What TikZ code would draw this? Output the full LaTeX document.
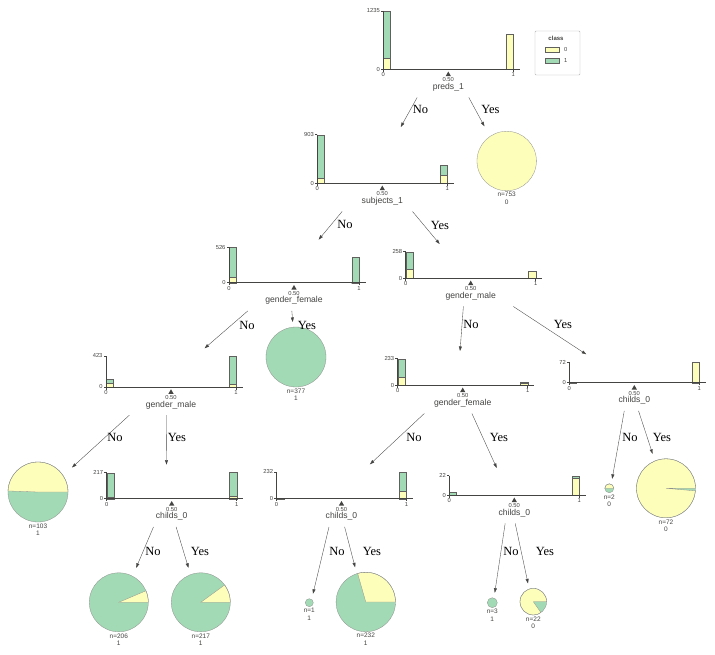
\documentclass[tikz,border=0pt]{standalone}
\usepackage{fontspec}
\setmainfont{Liberation Sans}
\newfontfamily\edgefont{Liberation Serif}
\usetikzlibrary{arrows.meta}

\definecolor{clzero}{HTML}{FEFEBB}
\definecolor{clone}{HTML}{A1DAB4}
\definecolor{dgrey}{HTML}{444443}

\tikzset{
  axisline/.style={draw=dgrey, line width=0.45pt},
  barline/.style={draw=dgrey!85, line width=0.3pt},
  pieline/.style={draw=dgrey!60, line width=0.3pt},
  ticklbl/.style={font=\fontsize{5.8}{6}\selectfont, text=dgrey, inner sep=0.8pt},
  featlbl/.style={font=\fontsize{8.6}{9}\selectfont, text=dgrey, inner sep=0pt},
  leaflbl/.style={font=\fontsize{6.5}{7.5}\selectfont, text=dgrey, align=center, inner sep=0pt, anchor=north},
  nodebox/.style={rectangle, inner sep=0pt, outer sep=0pt},
  edge/.style={draw=dgrey, line width=0.35pt, -{Triangle[length=4.5pt,width=3pt]}},
  lbl/.style={font=\edgefont\fontsize{12.5}{13}\selectfont, inner sep=0pt},
}

% one bar of a split histogram: x offset, class 0 height, total height
\newcommand{\histbar}[3]{%
  \filldraw[barline, fill=clone] (#1,0) rectangle ({#1+7.3},-#3);
  \filldraw[barline, fill=clzero] (#1,0) rectangle ({#1+7.3},-#2);
}

% axes, ticks and split of a split node: height, top count, feature, name
\newcommand{\histaxes}[4]{%
  \draw[axisline] (0,-#1) -- (0,0) -- (136.5,0);
  \draw[axisline] (0,-#1) -- ++(-2.5,0) node[ticklbl, anchor=east] (#4-ymax) {#2};
  \draw[axisline] (0,0) -- ++(-2.5,0) node[ticklbl, anchor=east] (#4-ymin) {0};
  \draw[axisline] (0,0) -- ++(0,2.5) node[ticklbl, anchor=north] (#4-xmin) {0};
  \draw[axisline] (130,0) -- ++(0,2.5) node[ticklbl, anchor=north] (#4-xmax) {1};
  \fill[dgrey] (65,2.3) -- (67.6,6.8) -- (62.4,6.8) -- cycle;
  \node[ticklbl] (#4-split) at (65,10.6) {0.50};
  \node[featlbl] (#4-feat) at (65,18) {#3};
  \node[nodebox, minimum width=164pt, minimum height={#1+35.9}] (#4) at (60,{(20.5-#1)/2}) {};
}

% leaf with two classes: name, x, y, radius, class 0 angle, n, class
\newcommand{\pieleaf}[7]{%
  \fill[clone] (#2,#3) circle (#4);
  \filldraw[pieline, fill=clzero] (#2,#3) -- ++(#4,0) arc[start angle=0, end angle=-#5, radius=#4] -- cycle;
  \draw[pieline] (#2,#3) circle (#4);
  \node[leaflbl] (#1-n) at (#2,{#3+#4+1.5}) {n=#6\\#7};
  \node[nodebox, minimum width={2*#4+8}, minimum height={2*#4+23}] (#1) at (#2,{#3+6.5}) {};
}

% leaf with one class: name, x, y, radius, colour, n, class
\newcommand{\solidleaf}[7]{%
  \filldraw[pieline, fill=#5] (#2,#3) circle (#4);
  \node[leaflbl] (#1-n) at (#2,{#3+#4+1.5}) {n=#6\\#7};
  \node[nodebox, minimum width={2*#4+8}, minimum height={2*#4+23}] (#1) at (#2,{#3+6.5}) {};
}

\begin{document}
\begin{tikzpicture}[x=1pt, y=-1pt]
  \useasboundingbox (0,0) rectangle (715,655);
  \fill[white] (0,0) rectangle (715,655);

  %split nodes
  \begin{scope}[shift={(383.3,69.3)}]
    \histbar{0}{11.5}{58.3}
    \histbar{122.7}{35.5}{35.5}
    \histaxes{58.3}{1235}{preds\_1}{preds}
  \end{scope}
  \begin{scope}[shift={(317.3,183.3)}]
    \histbar{0}{4.7}{48.6}
    \histbar{122.7}{8.6}{17.9}
    \histaxes{48.6}{903}{subjects\_1}{subjects}
  \end{scope}
  \begin{scope}[shift={(229,282.7)}]
    \histbar{0}{5.9}{35.4}
    \histbar{122.7}{0}{25.4}
    \histaxes{35.4}{526}{gender\_female}{female1}
  \end{scope}
  \begin{scope}[shift={(405.7,278.3)}]
    \histbar{0}{9}{26.6}
    \histbar{122.7}{7.4}{7.6}
    \histaxes{26.6}{258}{gender\_male}{male1}
  \end{scope}
  \begin{scope}[shift={(106,387)}]
    \histbar{0}{3.7}{7.5}
    \histbar{122.7}{2.6}{31}
    \histaxes{31}{423}{gender\_male}{male2}
  \end{scope}
  \begin{scope}[shift={(397.7,385.3)}]
    \histbar{0}{7.8}{26.6}
    \histbar{122.7}{2.2}{2.9}
    \histaxes{26.6}{233}{gender\_female}{female2}
  \end{scope}
  \begin{scope}[shift={(569.3,382.7)}]
    \histbar{0}{0.3}{0.6}
    \histbar{122.7}{20.4}{20.7}
    \histaxes{20.7}{72}{childs\_0}{childs1}
  \end{scope}
  \begin{scope}[shift={(106.7,498.7)}]
    \histbar{0}{1.6}{25.1}
    \histbar{122.7}{2.7}{26.4}
    \histaxes{26.4}{217}{childs\_0}{childs2}
  \end{scope}
  \begin{scope}[shift={(276.5,498.7)}]
    \histbar{0}{0}{0.1}
    \histbar{122.7}{7.8}{26.7}
    \histaxes{26.7}{232}{childs\_0}{childs3}
  \end{scope}
  \begin{scope}[shift={(449.3,495.3)}]
    \histbar{0}{0}{2.7}
    \histbar{122.7}{16.9}{19.6}
    \histaxes{19.6}{22}{childs\_0}{childs4}
  \end{scope}

  %leaves
  \solidleaf{n753}{506.7}{161}{29.7}{clzero}{753}{0}
  \solidleaf{n377}{296}{357}{30}{clone}{377}{1}
  \pieleaf{n103}{38}{492}{30}{178}{103}{1}
  \pieleaf{n2}{609.3}{488.3}{4.5}{180}{2}{0}
  \pieleaf{n72}{666}{488.3}{29.5}{355}{72}{0}
  \pieleaf{n206}{118.8}{602.3}{29.5}{23}{206}{1}
  \pieleaf{n217}{200.8}{602.3}{29.5}{36}{217}{1}
  \solidleaf{n1}{309.3}{602.7}{4}{clone}{1}{1}
  \pieleaf{n232}{365.8}{602}{29.7}{106}{232}{1}
  \solidleaf{n3}{492.3}{602.7}{5}{clone}{3}{1}
  \pieleaf{n22}{533.3}{601.7}{13.3}{305}{22}{0}

  %legend
  \node[nodebox, draw=dgrey!40, rounded corners=1pt, minimum width=45pt, minimum height=44pt] (legend) at (557.5,53) {};
  \node[font=\fontsize{6}{6}\selectfont\bfseries, text=dgrey] (legtitle) at (556,38.5) {class};
  \filldraw[barline, fill=clzero] (545,47) rectangle (559,52);
  \filldraw[barline, fill=clone] (545,58) rectangle (559,63);
  \node[ticklbl, anchor=west] (leg0) at (563,49.5) {0};
  \node[ticklbl, anchor=west] (leg1) at (563,60.5) {1};

  %edges
  \draw[edge] (preds) -- (subjects);
  \draw[edge] (preds) -- (n753);
  \draw[edge] (subjects) -- (female1);
  \draw[edge] (subjects) -- (male1);
  \draw[edge] (female1) -- (male2);
  \draw[edge] (female1) -- (n377);
  \draw[edge] (male1) -- (female2);
  \draw[edge] (male1) -- (childs1);
  \draw[edge] (male2) -- (n103);
  \draw[edge] (male2) -- (childs2);
  \draw[edge] (female2) -- (childs3);
  \draw[edge] (female2) -- (childs4);
  \draw[edge] (childs1) -- (n2);
  \draw[edge] (childs1) -- (n72);
  \draw[edge] (childs2) -- (n206);
  \draw[edge] (childs2) -- (n217);
  \draw[edge] (childs3) -- (n1);
  \draw[edge] (childs3) -- (n232);
  \draw[edge] (childs4) -- (n3);
  \draw[edge] (childs4) -- (n22);

  %edge labels
  \node[lbl] (e1) at (420.5,109) {No};
  \node[lbl] (e2) at (490.5,109) {Yes};
  \node[lbl] (e3) at (345,224.5) {No};
  \node[lbl] (e4) at (440,225) {Yes};
  \node[lbl] (e5) at (247,325.5) {No};
  \node[lbl] (e6) at (307,325.5) {Yes};
  \node[lbl] (e7) at (471,324.5) {No};
  \node[lbl] (e8) at (563,324.5) {Yes};
  \node[lbl] (e9) at (115,437) {No};
  \node[lbl] (e10) at (177,437) {Yes};
  \node[lbl] (e11) at (414,437) {No};
  \node[lbl] (e12) at (499,437) {Yes};
  \node[lbl] (e13) at (630,437) {No};
  \node[lbl] (e14) at (662,437) {Yes};
  \node[lbl] (e15) at (153,551) {No};
  \node[lbl] (e16) at (200,551) {Yes};
  \node[lbl] (e17) at (337,551) {No};
  \node[lbl] (e18) at (372,551) {Yes};
  \node[lbl] (e19) at (511,551) {No};
  \node[lbl] (e20) at (545,551) {Yes};
\end{tikzpicture}
\end{document}
